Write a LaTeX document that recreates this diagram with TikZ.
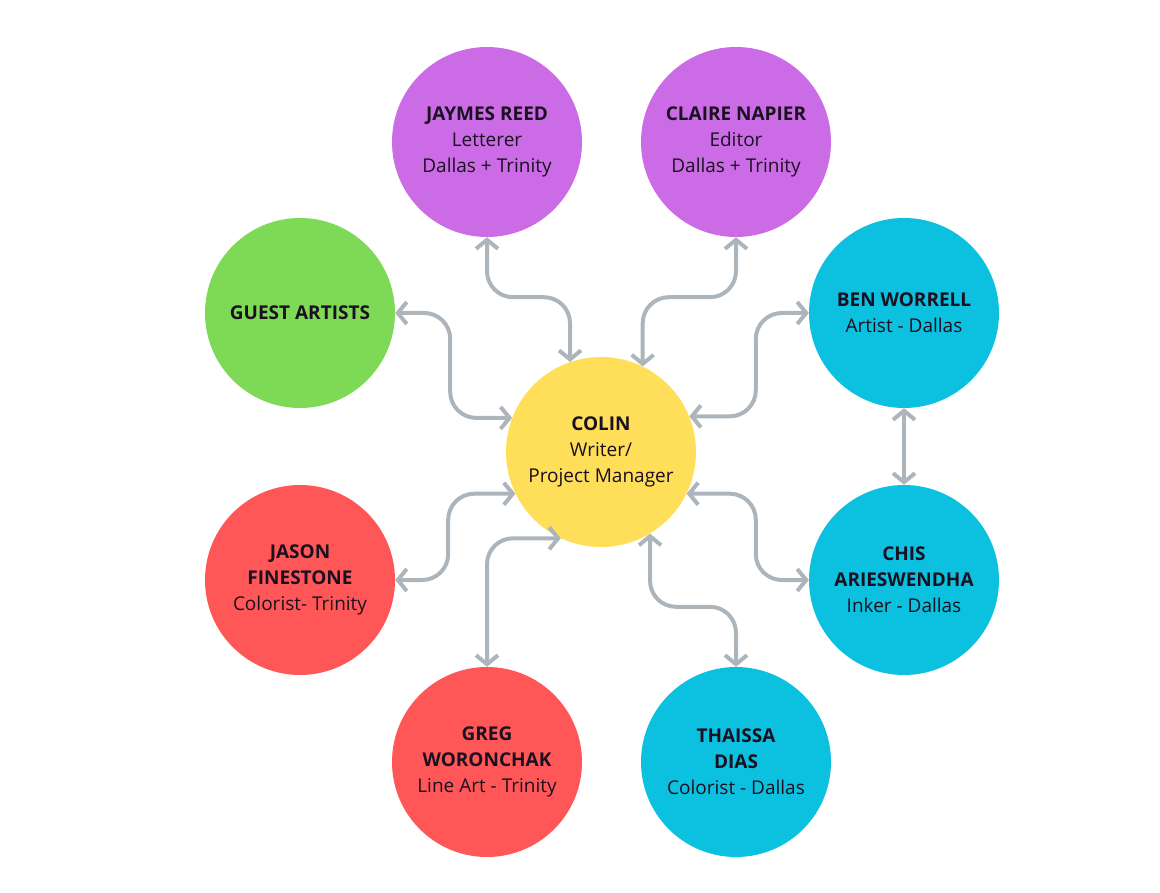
\documentclass[tikz,border=0pt]{standalone}
\usepackage{fontspec}
\setmainfont{Open Sans}
\usepackage{tikz}
\usetikzlibrary{arrows.meta,positioning}
\definecolor{leadyellow}{HTML}{FFDE59}
\definecolor{editpurple}{HTML}{CB6CE6}
\definecolor{guestgreen}{HTML}{7ED957}
\definecolor{trinityred}{HTML}{FF5757}
\definecolor{dallascyan}{HTML}{0CC0DF}
\definecolor{linkgray}{HTML}{ADB5BC}
\definecolor{inkdark}{HTML}{1A1020}

\begin{document}
\begin{tikzpicture}[x=1pt,y=-1pt,
        person/.style={circle,minimum size=190pt,inner sep=0pt,
                       font=\fontsize{19}{26}\selectfont,align=center,
                       text=inkdark},
        link/.style={{Straight Barb[length=9pt,width=22pt]}-{Straight Barb[length=9pt,width=22pt]},
                     line width=4pt,linkgray,rounded corners=26pt,
                     line cap=round,line join=round}]
        \useasboundingbox (0,0) rectangle (1160,893);
        \node[person,fill=leadyellow]  (colin)   at (601,452) {\textbf{COLIN}\\Writer/\\Project Manager};
        \node[person,fill=editpurple]  (jaymes)  at (487,142) {\textbf{JAYMES REED}\\Letterer\\Dallas + Trinity};
        \node[person,fill=editpurple]  (claire)  at (736,142) {\textbf{CLAIRE NAPIER}\\Editor\\Dallas + Trinity};
        \node[person,fill=guestgreen]  (guest)   at (300,313) {\textbf{GUEST ARTISTS}};
        \node[person,fill=dallascyan]  (ben)     at (904,313) {\textbf{BEN WORRELL}\\Artist - Dallas};
        \node[person,fill=trinityred]  (jason)   at (300,580) {\textbf{JASON}\\\textbf{FINESTONE}\\Colorist- Trinity};
        \node[person,fill=dallascyan]  (chis)    at (904,580) {\textbf{CHIS}\\\textbf{ARIESWENDHA}\\Inker - Dallas};
        \node[person,fill=trinityred]  (greg)    at (487,762) {\textbf{GREG}\\\textbf{WORONCHAK}\\Line Art - Trinity};
        \node[person,fill=dallascyan]  (thaissa) at (736,762) {\textbf{THAISSA}\\\textbf{DIAS}\\Colorist - Dallas};
        \draw[link] (jaymes.south) -- ++(0,60) -| (colin.109);
        \draw[link] (claire.south) -- ++(0,60) -| (colin.64);
        \draw[link] (guest.east) -- ++(55,0) |- (colin.159);
        \draw[link] (ben.west) -- ++(-53,0) |- (colin.22);
        \draw[link] (jason.east) -- ++(53,0) |- (colin.206);
        \draw[link] (chis.west) -- ++(-53,0) |- (colin.334);
        \draw[link] (greg.north) |- (colin.245);
        \draw[link] (thaissa.north) -- ++(0,-60) -| (colin.301);
        \draw[link] (ben.south) -- (chis.north);
      \end{tikzpicture}
\end{document}
